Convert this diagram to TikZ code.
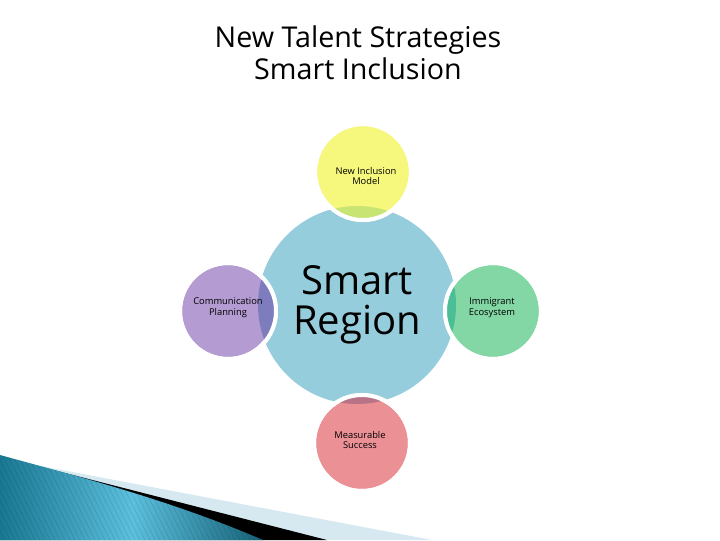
\documentclass[tikz,border=0pt]{standalone}
\usepackage{fontspec}
\setmainfont{Open Sans}
\definecolor{cyanC}{HTML}{96CDDC}
\definecolor{yelC}{HTML}{F6F77D}
\definecolor{yelL}{HTML}{C8E473}
\definecolor{purC}{HTML}{B49BD2}
\definecolor{purL}{HTML}{7D7DBE}
\definecolor{grnC}{HTML}{82D7A5}
\definecolor{grnL}{HTML}{4BBE96}
\definecolor{pnkC}{HTML}{EB9196}
\definecolor{pnkL}{HTML}{B97387}
\definecolor{bandLight}{HTML}{D6E9F0}
\definecolor{blueDark}{HTML}{1A7893}
\definecolor{blueMid}{HTML}{5CC0DE}
\tikzset{
  hub/.style={circle, fill=cyanC, minimum size=148.5pt, inner sep=0pt, align=center,
    font=\fontsize{30}{32}\selectfont},
  sat/.style={circle, draw=white, line width=3pt, minimum size=72pt, inner sep=0pt,
    align=center, font=\fontsize{7}{8}\selectfont},
  ring/.style={draw=white, line width=3pt},
  lbl/.style={font=\fontsize{7}{8}\selectfont, align=center},
}
\begin{document}
\begin{tikzpicture}[x=0.75pt,y=-0.75pt]
\useasboundingbox (0,0) rectangle (720,540);
% bottom-left decoration
\fill[bandLight] (30,464) -- (432,540) -- (0,540) -- (0,458) -- cycle;
\fill[black] (26,463) -- (327,540) -- (0,540) -- (0,457) -- cycle;
\begin{scope}
\clip (0,455) .. controls (80,477) and (170,500) .. (263,540) -- (0,540) -- cycle;
\shade[left color=blueDark, right color=blueDark!80!black, middle color=blueMid]
  (0,450) rectangle (265,540);
\foreach \i in {-300,-295,...,300}
  \draw[black, opacity=0.12, line width=0.4pt] (\i,440) -- ++(55,110);
\end{scope}
% title
\node[font=\fontsize{21.5}{24}\selectfont, align=center] (title) at (358,53)
  {New Talent Strategies\\Smart Inclusion};
% hub
\node[hub] (hub) at (357,305) {Smart\\[-2pt]Region};
% satellites
\node[sat, fill=yelC] (top) at (363,172) {};
\node[sat, fill=purC] (left) at (228,311) {};
\node[sat, fill=grnC] (right) at (493,311) {};
\node[sat, fill=pnkC] (bottom) at (362,443) {};
\begin{scope}
\clip (hub.center) circle (99);
\fill[yelL] (top.center) circle (48);
\fill[purL] (left.center) circle (48);
\fill[grnL] (right.center) circle (48);
\fill[pnkL] (bottom.center) circle (48);
\end{scope}
\draw[ring] (top.center) circle (48);
\draw[ring] (left.center) circle (48);
\draw[ring] (right.center) circle (48);
\draw[ring] (bottom.center) circle (48);
% labels
\node[lbl] (ltop) at (366,176) {New Inclusion\\Model};
\node[lbl] (lleft) at (228,308) {Communication\\Planning};
\node[lbl] (lright) at (492,308) {Immigrant\\Ecosystem};
\node[lbl] (lbottom) at (360,440) {Measurable\\Success};
\end{tikzpicture}
\end{document}
